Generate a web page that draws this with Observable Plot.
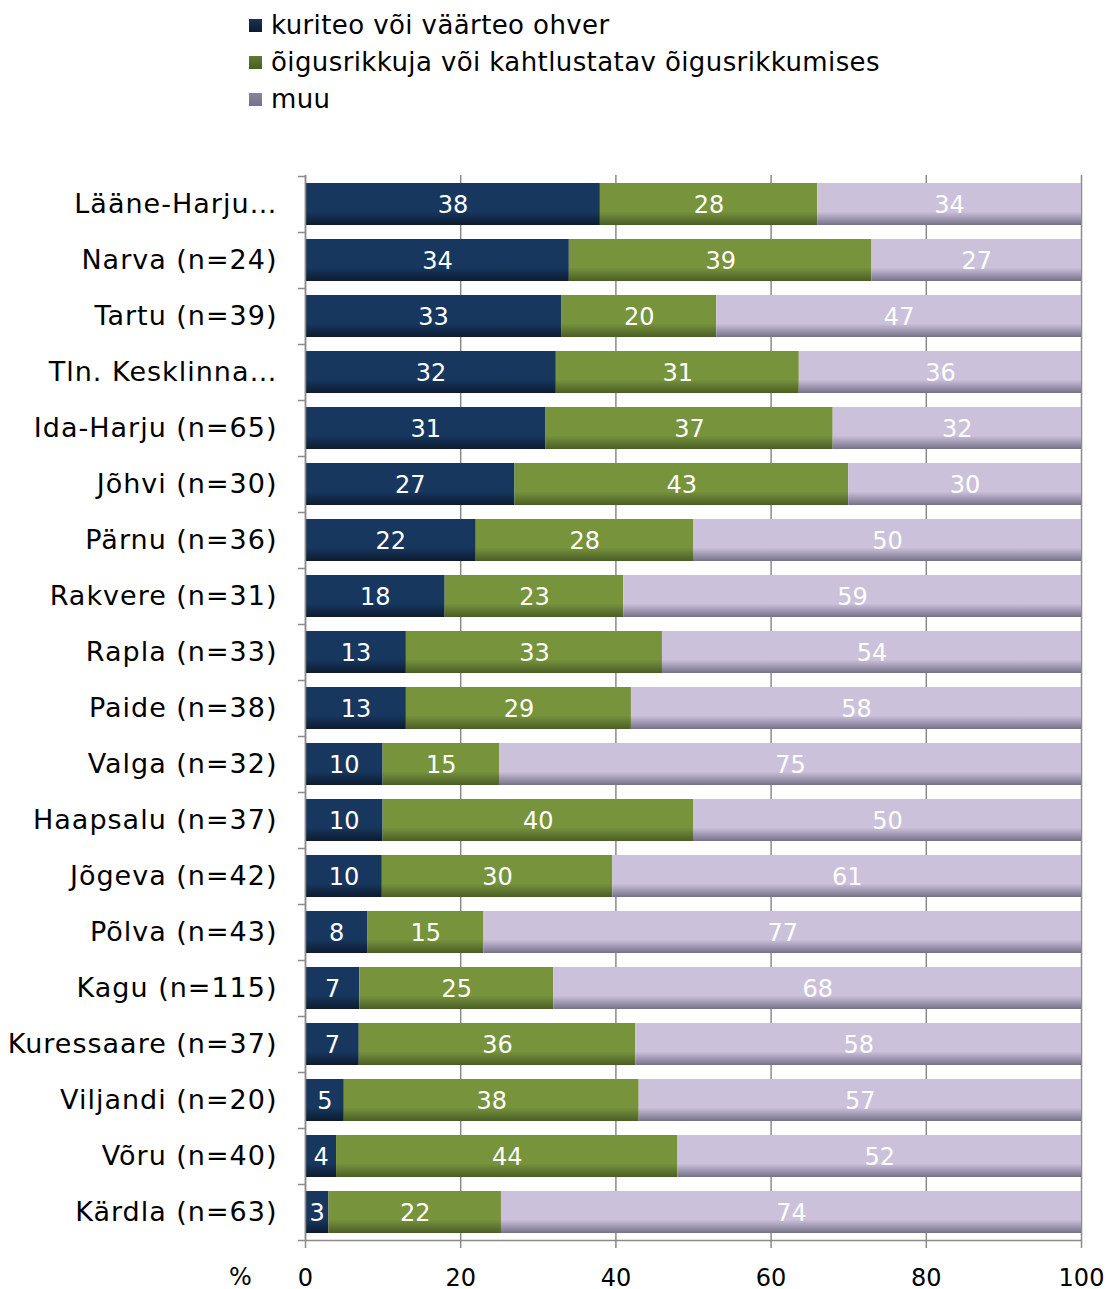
<!DOCTYPE html>
<html><head><meta charset="utf-8">
<script src="https://cdn.jsdelivr.net/npm/d3@7"></script>
<script src="https://cdn.jsdelivr.net/npm/@observablehq/plot@0.6"></script>
<style>
body{margin:0;background:#fff;font-family:"DejaVu Sans",Verdana,sans-serif;}
#legend{position:relative;height:120px;width:1110px;}
.item{position:absolute;left:249px;height:32px;display:flex;align-items:center;font-size:26px;letter-spacing:0.4px;color:#000;white-space:nowrap;}
.sw{width:13px;height:13px;margin-right:9px;}
.yax text{letter-spacing:1px;}
</style></head><body>
<div id="legend"></div>
<div id="chart"></div>
<script>
const categories = ["Lääne-Harju…","Narva (n=24)","Tartu (n=39)","Tln. Kesklinna…","Ida-Harju (n=65)","Jõhvi (n=30)","Pärnu (n=36)","Rakvere (n=31)","Rapla (n=33)","Paide (n=38)","Valga (n=32)","Haapsalu (n=37)","Jõgeva (n=42)","Põlva (n=43)","Kagu (n=115)","Kuressaare (n=37)","Viljandi (n=20)","Võru (n=40)","Kärdla (n=63)"];
const victim   = [38,34,33,32,31,27,22,18,13,13,10,10,10,8,7,7,5,4,3];
const offender = [28,39,20,31,37,43,28,23,33,29,15,40,30,15,25,36,38,44,22];
const other    = [34,27,47,36,32,30,50,59,54,58,75,50,61,77,68,58,57,52,74];
const seriesNames = ["kuriteo või väärteo ohver","õigusrikkuja või kahtlustatav õigusrikkumises","muu"];
const xTicks = [0,20,40,60,80,100];

const seriesValues = [victim, offender, other];
const data = [];
categories.forEach((c,i)=>seriesNames.forEach((s,j)=>data.push({category:c, series:s, value:seriesValues[j][i]})));

const gradIds = ["gVictim","gOffender","gOther"];
const baseCol = ["#17375E","#77933C","#CCC1DA"];
const darkCol = ["#0b1b30","#4a5e25","#77718a"];
const legendCol = ["#1a3356","#5f7a30","#8a8596"];

// legend
const legend = document.getElementById("legend");
const centers = [25,62,99];
seriesNames.forEach((s,i)=>{
  const it = document.createElement("div");
  it.className="item"; it.style.top=(centers[i]-16)+"px";
  const sw = document.createElement("div"); sw.className="sw";
  sw.style.background=`linear-gradient(${legendCol[i]}, ${darkCol[i]})`;
  const tx = document.createElement("span"); tx.textContent=s;
  it.appendChild(sw); it.appendChild(tx); legend.appendChild(it);
});

const chart = Plot.plot({
  width:1110, height:1169,
  marginTop:55, marginBottom:49, marginLeft:305, marginRight:29,
  style:{fontFamily:'"DejaVu Sans", Verdana, sans-serif', fontSize:"26px", color:"#000", background:"#fff", overflow:"visible"},
  x:{domain:[0,1], label:null},
  y:{type:"band", domain:categories, paddingInner:0.25, paddingOuter:0.125, label:null},
  color:{domain:seriesNames, range:gradIds.map(id=>`url(#${id})`)},
  marks:[
    Plot.gridX(xTicks.map(t=>t/100), {stroke:"#8a8a8a", strokeOpacity:1, strokeWidth:1.5}),
    Plot.barX(data, Plot.stackX({y:"category", x:"value", fill:"series", offset:"normalize"})),
    Plot.textX(data, Plot.stackX({y:"category", x:"value", z:"series", text:"value", offset:"normalize", fill:"white", fontSize:24, dy:1})),
    Plot.ruleX([0], {stroke:"#8a8a8a", strokeWidth:1.5}),
    Plot.ruleY(categories, {y:d=>d, dy:-28, x1:0, x2:0, insetLeft:-7, stroke:"#8a8a8a", strokeWidth:1.5}),
    Plot.ruleY(categories.slice(-1), {y:d=>d, dy:28, x1:0, x2:1, insetLeft:-7, stroke:"#8a8a8a", strokeWidth:1.5}),
    Plot.axisX(xTicks.map(t=>t/100), {tickFormat:d=>Math.round(d*100), tickSize:8, tickPadding:20, stroke:"#8a8a8a", strokeWidth:1.5, fill:"#000", fontSize:24}),
    Plot.axisY({tickSize:0, tickPadding:28, fontSize:27, fill:"#000", className:"yax"}),
    Plot.text(["%"], {frameAnchor:"bottom-left", dx:-65, dy:44, textAnchor:"middle", fontSize:24, fill:"#000"})
  ]
});
const svg = d3.select(chart);
const defs = svg.insert("defs", ":first-child");
gradIds.forEach((id,i)=>{
  const g = defs.append("linearGradient").attr("id",id).attr("x1",0).attr("y1",0).attr("x2",0).attr("y2",1);
  g.append("stop").attr("offset",0).attr("stop-color",baseCol[i]);
  g.append("stop").attr("offset",0.68).attr("stop-color",baseCol[i]);
  g.append("stop").attr("offset",1).attr("stop-color",darkCol[i]);
});
document.getElementById("chart").appendChild(chart);
</script>
</body></html>
